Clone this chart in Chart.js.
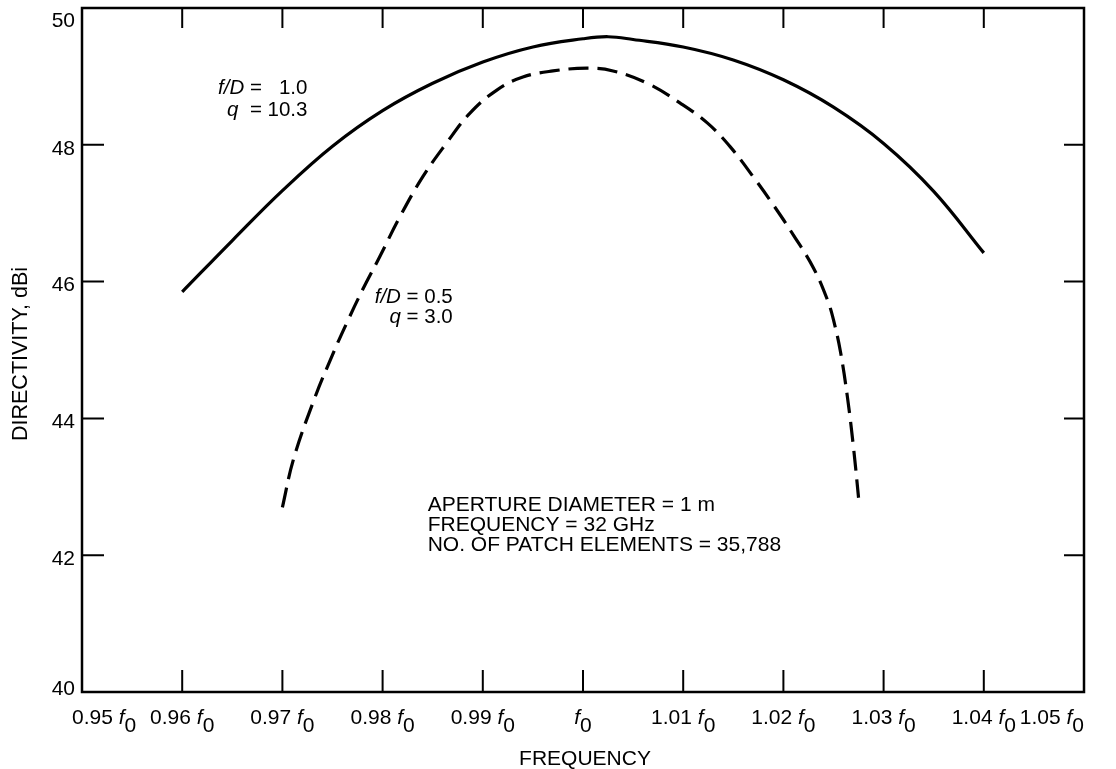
<!DOCTYPE html>
<html>
<head>
<meta charset="utf-8">
<script src="https://cdn.jsdelivr.net/npm/chart.js@4/dist/chart.umd.min.js"></script>
<style>
  html, body { margin: 0; padding: 0; background: #fff; }
  #wrap { width: 1116px; height: 769px; }
</style>
</head>
<body>
<div id="wrap"><canvas id="dirChart" width="1116" height="769"></canvas></div>
<script>
// tick values and labels (x is shown as multiples of f0)
const freqTicks = [0.95, 0.96, 0.97, 0.98, 0.99, 1.0, 1.01, 1.02, 1.03, 1.04, 1.05];
const freqTickLabels = ["0.95", "0.96", "0.97", "0.98", "0.99", "", "1.01", "1.02", "1.03", "1.04", "1.05"];
const dirTicks = [40, 42, 44, 46, 48, 50];

// f/D = 1.0, q = 10.3 (solid)
const freqSolid = [0.96, 0.965, 0.97, 0.975, 0.98, 0.985, 0.99, 0.995, 1.0, 1.0025, 1.005, 1.01, 1.015, 1.02, 1.025, 1.03, 1.035, 1.04];
const dirSolid = [45.85, 46.6, 47.33, 47.98, 48.5, 48.9, 49.21, 49.43, 49.55, 49.58, 49.54, 49.43, 49.24, 48.95, 48.55, 48.02, 47.32, 46.42];

// f/D = 0.5, q = 3.0 (dashed)
const freqDashed = [0.97, 0.9711, 0.9731, 0.975, 0.9765, 0.978, 0.9797, 0.9817, 0.984, 0.9864, 0.9887, 0.9914, 0.994, 0.997, 1.0004, 1.003, 1.0064, 1.0097, 1.0124, 1.0147, 1.017, 1.019, 1.021, 1.023, 1.0244, 1.025, 1.0257, 1.0264, 1.027, 1.0275];
const dirDashed = [42.7, 43.4, 44.25, 44.93, 45.42, 45.88, 46.36, 46.94, 47.53, 48.03, 48.46, 48.8, 48.99, 49.08, 49.12, 49.08, 48.9, 48.61, 48.32, 47.97, 47.53, 47.12, 46.68, 46.2, 45.73, 45.44, 44.97, 44.3, 43.57, 42.84];

const FONT = '"Liberation Sans", Arial, Helvetica, sans-serif';

function toPoints(xs, ys) {
  return xs.map((x, i) => ({ x: x, y: ys[i] }));
}

// draw a string made of runs (some italic, some shifted down)
function drawRuns(ctx, runs, x, y, size, align) {
  let total = 0;
  runs.forEach((r) => {
    ctx.font = (r.italic ? "italic " : "") + size + "px " + FONT;
    r.w = ctx.measureText(r.t).width;
    total += r.w;
  });
  let cx = x;
  if (align === "right") cx = x - total;
  if (align === "center") cx = x - total / 2;
  runs.forEach((r) => {
    ctx.font = (r.italic ? "italic " : "") + size + "px " + FONT;
    ctx.fillText(r.t, cx, y + (r.dy || 0));
    cx += r.w;
  });
}

const framePlugin = {
  id: "frame",
  afterDraw(chart) {
    const ctx = chart.ctx;
    const a = chart.chartArea;
    const xs = chart.scales.x;
    const ys = chart.scales.y;
    ctx.save();
    ctx.strokeStyle = "#000";
    ctx.fillStyle = "#000";

    // box
    ctx.lineWidth = 2.5;
    ctx.strokeRect(a.left, a.top, a.right - a.left, a.bottom - a.top);

    // inward ticks
    ctx.lineWidth = 2;
    ctx.beginPath();
    freqTicks.slice(1, -1).forEach((v) => {
      const px = xs.getPixelForValue(v);
      ctx.moveTo(px, a.bottom);
      ctx.lineTo(px, a.bottom - 22);
      ctx.moveTo(px, a.top);
      ctx.lineTo(px, a.top + 20);
    });
    dirTicks.slice(1, -1).forEach((v) => {
      const py = ys.getPixelForValue(v);
      ctx.moveTo(a.left, py);
      ctx.lineTo(a.left + 22, py);
      ctx.moveTo(a.right, py);
      ctx.lineTo(a.right - 20, py);
    });
    ctx.stroke();

    // y tick labels
    ctx.textBaseline = "middle";
    ctx.textAlign = "left";
    dirTicks.forEach((v, i) => {
      let off = 4;
      if (i === dirTicks.length - 1) off = 13;
      if (i === 0) off = -3;
      drawRuns(ctx, [{ t: String(v) }], a.left - 7, ys.getPixelForValue(v) + off, 21, "right");
    });

    // x tick labels: "0.96 f0"
    ctx.textBaseline = "alphabetic";
    freqTicks.forEach((v, i) => {
      const lab = freqTickLabels[i];
      const runs = [];
      if (lab) runs.push({ t: lab + " " });
      runs.push({ t: "f", italic: true });
      runs.push({ t: "0", dy: 8 });
      let align = "center";
      let px = xs.getPixelForValue(v);
      if (i === 0) { align = "left"; px -= 10; }
      if (i === freqTicks.length - 1) { align = "right"; }
      drawRuns(ctx, runs, px, a.bottom + 32, 21, align);
    });

    // axis titles
    ctx.textAlign = "left";
    drawRuns(ctx, [{ t: "FREQUENCY" }], 585, 765, 21, "center");
    ctx.save();
    ctx.translate(27, 354);
    ctx.rotate(-Math.PI / 2);
    drawRuns(ctx, [{ t: "DIRECTIVITY, dBi" }], 0, 0, 21.5, "center");
    ctx.restore();

    // curve labels
    ctx.textBaseline = "middle";
    const lx1 = xs.getPixelForValue(0.9725);
    drawRuns(ctx, [{ t: "f/D", italic: true }, { t: " =   1.0" }], lx1, ys.getPixelForValue(48.83), 20.5, "right");
    drawRuns(ctx, [{ t: "q", italic: true }, { t: "  = 10.3" }], lx1, ys.getPixelForValue(48.51), 20.5, "right");
    const lx2 = xs.getPixelForValue(0.987);
    drawRuns(ctx, [{ t: "f/D", italic: true }, { t: " = 0.5" }], lx2, ys.getPixelForValue(45.77), 20.5, "right");
    drawRuns(ctx, [{ t: "q", italic: true }, { t: " = 3.0" }], lx2, ys.getPixelForValue(45.48), 20.5, "right");

    // notes
    const nx = xs.getPixelForValue(0.9845);
    drawRuns(ctx, [{ t: "APERTURE DIAMETER = 1 m" }], nx, ys.getPixelForValue(42.73), 21, "left");
    drawRuns(ctx, [{ t: "FREQUENCY = 32 GHz" }], nx, ys.getPixelForValue(42.44), 21, "left");
    drawRuns(ctx, [{ t: "NO. OF PATCH ELEMENTS = 35,788" }], nx, ys.getPixelForValue(42.15), 21, "left");

    ctx.restore();
  },
};

window.addEventListener("DOMContentLoaded", () => {
  const ctx = document.getElementById("dirChart").getContext("2d");
  new Chart(ctx, {
    type: "line",
    data: {
      datasets: [
        {
          label: "f/D = 1.0, q = 10.3",
          data: toPoints(freqSolid, dirSolid),
          borderColor: "#000",
          borderWidth: 3.2,
          pointRadius: 0,
          tension: 0.4,
          fill: false,
        },
        {
          label: "f/D = 0.5, q = 3.0",
          data: toPoints(freqDashed, dirDashed),
          borderColor: "#000",
          borderWidth: 3.2,
          borderDash: [20, 9],
          pointRadius: 0,
          tension: 0.4,
          fill: false,
        },
      ],
    },
    options: {
      responsive: false,
      animation: false,
      layout: {
        padding: { left: 82, right: 32, top: 8, bottom: 77 },
      },
      plugins: {
        legend: { display: false },
        tooltip: { enabled: false },
      },
      scales: {
        x: { type: "linear", min: 0.95, max: 1.05, display: false },
        y: { type: "linear", min: 40, max: 50, display: false },
      },
    },
    plugins: [framePlugin],
  });
});
</script>
</body>
</html>
